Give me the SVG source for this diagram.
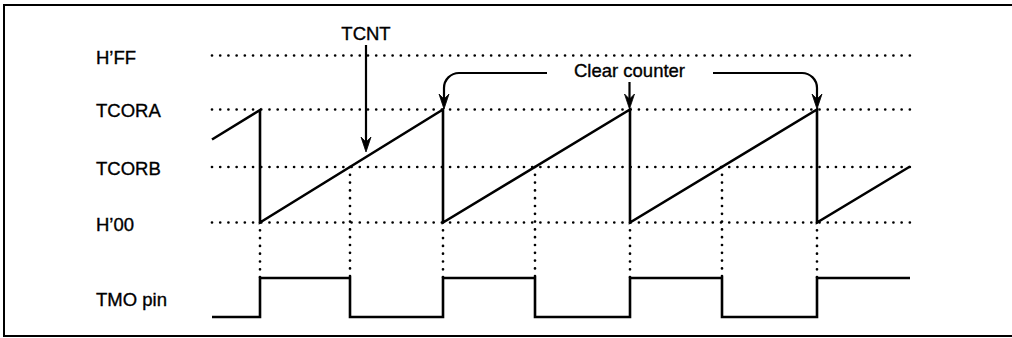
<svg xmlns="http://www.w3.org/2000/svg" width="1012" height="338" viewBox="0 0 1012 338">
<style>
  .lbl { font-family: "Liberation Sans", Arial, sans-serif; font-size: 18.5px; fill: #000; stroke: #000; stroke-width: 0.35; }
  .dotH { stroke: #000; stroke-width: 2.7; stroke-linecap: round; stroke-dasharray: 0 8.21; fill: none; }
  .dotV { stroke: #000; stroke-width: 2.7; stroke-linecap: round; stroke-dasharray: 0 7.8; fill: none; }
  .wave { stroke: #000; stroke-width: 2.6; fill: none; stroke-linejoin: miter; }
  .conn { stroke: #000; stroke-width: 2.2; fill: none; }
  .head { fill: #000; stroke: #000; stroke-width: 0.8; stroke-linejoin: miter; }
</style>
<rect x="0" y="0" width="1012" height="338" fill="#fff"/>
<rect id="frame" x="4" y="5" width="1030" height="331" fill="none" stroke="#000" stroke-width="2"/>

<g id="labels">
  <text id="lbl-hff" class="lbl" x="96" y="64">H’FF</text>
  <text id="lbl-tcora" class="lbl" x="96" y="117">TCORA</text>
  <text id="lbl-tcorb" class="lbl" x="96" y="175">TCORB</text>
  <text id="lbl-h00" class="lbl" x="96" y="230.5">H’00</text>
  <text id="lbl-tmo" class="lbl" x="96" y="305.5">TMO pin</text>
</g>

<g id="grid">
  <line class="dotH" x1="212" y1="55.5" x2="910" y2="55.5"/>
  <line class="dotH" x1="212" y1="109.5" x2="910" y2="109.5"/>
  <line class="dotH" x1="212" y1="167" x2="910" y2="167"/>
  <line class="dotH" x1="212" y1="222.5" x2="910" y2="222.5"/>
  <line class="dotV" x1="260" y1="222.5" x2="260" y2="278"/>
  <line class="dotV" x1="350" y1="167" x2="350" y2="278"/>
  <line class="dotV" x1="443" y1="222.5" x2="443" y2="278"/>
  <line class="dotV" x1="535" y1="167" x2="535" y2="278"/>
  <line class="dotV" x1="630" y1="222.5" x2="630" y2="278"/>
  <line class="dotV" x1="722" y1="167" x2="722" y2="278"/>
  <line class="dotV" x1="817" y1="222.5" x2="817" y2="278"/>
</g>

<g id="tcnt-wave">
  <path class="wave" d="M212 139.5 L260 110 V222.5 L443 109.5 V222.5 L630 109.5 V222.5 L817 109.5 V222.5 L910 166.5"/>
</g>

<g id="tmo-wave">
  <path class="wave" d="M212 317 H260 V278 H350 V317 H443 V278 H535 V317 H630 V278 H722 V317 H817 V278 H910"/>
</g>

<g id="tcnt-label">
  <text class="lbl" x="366" y="39.5" text-anchor="middle">TCNT</text>
</g>
<g id="clear-label">
  <text class="lbl" x="629.5" y="76.5" text-anchor="middle">Clear counter</text>
</g>

<g id="connectors">
  <path class="conn" d="M366 45 V144"/>
  <path class="head" d="M366 152 L361 137 L366 142 L371 137 Z"/>
  <path class="conn" d="M547 73 H459 A15 15 0 0 0 444 88 V101"/>
  <path class="head" d="M444 109 L439 94 L444 99 L449 94 Z"/>
  <path class="conn" d="M629.5 82 V101"/>
  <path class="head" d="M629.5 109 L624.5 94 L629.5 99 L634.5 94 Z"/>
  <path class="conn" d="M713 73 H802 A15 15 0 0 1 817 88 V101"/>
  <path class="head" d="M817 109 L812 94 L817 99 L822 94 Z"/>
</g>
</svg>
